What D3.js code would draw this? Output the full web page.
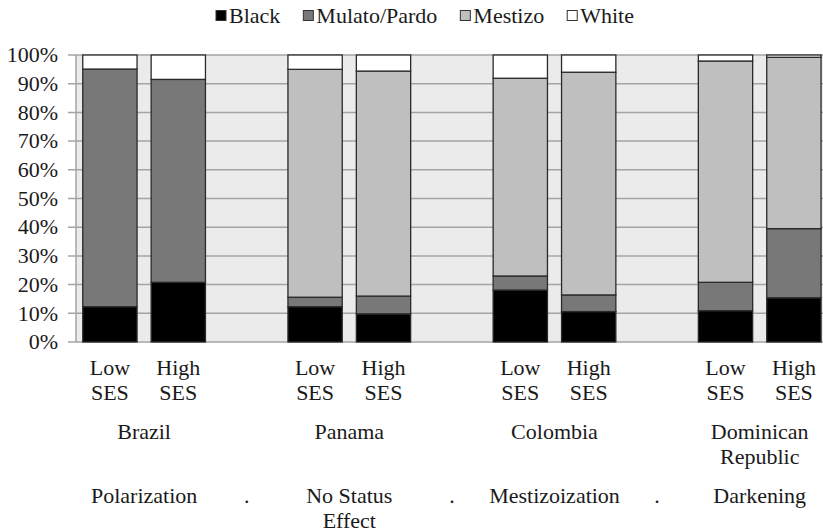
<!DOCTYPE html>
<html>
<head>
<meta charset="utf-8">
<script src="https://cdn.jsdelivr.net/npm/d3@7"></script>
<style>
  body { margin: 0; background: #fff; }
</style>
</head>
<body>
<div id="chart"></div>
<script>
// DATA
const countries = ["Brazil", "Panama", "Colombia", "Dominican Republic"];
const patterns = ["Polarization", "No Status Effect", "Mestizoization", "Darkening"];
const sesLevels = ["Low SES", "High SES"];
const seriesNames = ["Black", "Mulato/Pardo", "Mestizo", "White"];
// one value per bar: Brazil L/H, Panama L/H, Colombia L/H, Dominican Rep. L/H
const black   = [12.3, 20.8, 12.3,  9.8, 18.1, 10.6, 10.9, 15.4];
const mulato  = [82.8, 70.7,  3.3,  6.2,  4.9,  5.8,  9.9, 24.1];
const mestizo = [ 0.0,  0.0, 79.4, 78.4, 68.9, 77.6, 77.1, 59.7];
const white   = [ 4.9,  8.5,  5.0,  5.6,  8.1,  6.0,  2.1,  0.8];
const yTicks = [0, 10, 20, 30, 40, 50, 60, 70, 80, 90, 100];

const colors = ["#000000", "#787878", "#bfbfbf", "#ffffff"];

// 1: SVG
const W = 823, H = 532;
const svg = d3.select("#chart").append("svg")
    .attr("width", W)
    .attr("height", H)
    .attr("font-family", "'Liberation Serif', 'DejaVu Serif', serif")
    .attr("font-size", 22)
    .attr("fill", "#1a1a1a");

// build table: bars plus empty slots between countries (Excel-style blank categories)
const slots = [];
const rows = [];
countries.forEach((c, gi) => {
    sesLevels.forEach((s, si) => {
        const i = gi * 2 + si;
        const key = c + "|" + s;
        slots.push(key);
        rows.push({ key: key, country: c, ses: s,
            "Black": black[i], "Mulato/Pardo": mulato[i], "Mestizo": mestizo[i], "White": white[i] });
    });
    if (gi < countries.length - 1) slots.push("gap" + gi);
});

// 2: SCALES
const x = d3.scaleBand()
    .domain(slots)
    .range([75.7, 828.1])
    .paddingInner(0.206)
    .paddingOuter(0.103);

const y = d3.scaleLinear()
    .domain([0, 100])
    .range([342, 55]);

const plotLeft = 76, plotRight = W;

// 3: BACKGROUND + GRID
svg.append("rect")
    .attr("x", plotLeft).attr("y", y(100))
    .attr("width", plotRight - plotLeft).attr("height", y(0) - y(100))
    .attr("fill", "#ebebeb");

svg.append("g")
    .selectAll("line")
    .data(yTicks)
    .enter().append("line")
    .attr("x1", 68).attr("x2", plotRight)
    .attr("y1", d => y(d)).attr("y2", d => y(d))
    .attr("stroke", "#a4a4a4")
    .attr("stroke-width", 1.5);

svg.append("line")
    .attr("x1", plotLeft).attr("x2", plotLeft)
    .attr("y1", y(0)).attr("y2", y(100))
    .attr("stroke", "#a4a4a4")
    .attr("stroke-width", 1.5);

// y labels
svg.append("g")
    .selectAll("text")
    .data(yTicks)
    .enter().append("text")
    .attr("x", 58)
    .attr("y", d => y(d))
    .attr("dy", "0.33em")
    .attr("text-anchor", "end")
    .text(d => d + "%");

// 4: STACKED BARS
const stack = d3.stack().keys(seriesNames)(rows);

svg.append("g")
    .selectAll("g")
    .data(stack)
    .enter().append("g")
    .attr("fill", (d, i) => colors[i])
    .selectAll("rect")
    .data(d => d)
    .enter().append("rect")
    .attr("x", d => x(d.data.key))
    .attr("width", x.bandwidth())
    .attr("y", d => y(d[1]))
    .attr("height", d => y(d[0]) - y(d[1]))
    .attr("stroke", "#2a2a2a")
    .attr("stroke-width", 1.3);

// 5: CATEGORY LABELS
const ses = svg.append("g")
    .selectAll("text")
    .data(rows)
    .enter().append("text")
    .attr("text-anchor", "middle")
    .attr("x", d => x(d.key) + x.bandwidth() / 2)
    .attr("y", 375);
ses.append("tspan").text(d => d.ses.split(" ")[0]);
ses.append("tspan")
    .attr("x", d => x(d.key) + x.bandwidth() / 2)
    .attr("dy", 25)
    .text(d => d.ses.split(" ")[1]);

function groupCenter(c) {
    const a = x(c + "|" + sesLevels[0]);
    const b = x(c + "|" + sesLevels[1]) + x.bandwidth();
    return (a + b) / 2;
}

// wrap long labels onto two lines the way the reference does
const countryLines = c => c === "Dominican Republic" ? ["Dominican", "Republic"] : [c];
const patternLines = p => p === "No Status Effect" ? ["No Status", "Effect"] : [p];

function multiLine(data, linesFn, baseY) {
    const t = svg.append("g")
        .selectAll("text")
        .data(data)
        .enter().append("text")
        .attr("text-anchor", "middle")
        .attr("y", baseY);
    t.each(function(d, i) {
        const cx = groupCenter(countries[i]);
        d3.select(this).selectAll("tspan")
            .data(linesFn(d))
            .enter().append("tspan")
            .attr("x", cx)
            .attr("dy", (l, j) => j === 0 ? 0 : 25)
            .text(l => l);
    });
}
multiLine(countries, countryLines, 439);
multiLine(patterns, patternLines, 503);

// dots in the blank slots
svg.append("g")
    .selectAll("text")
    .data(slots.filter(s => s.startsWith("gap")))
    .enter().append("text")
    .attr("text-anchor", "middle")
    .attr("x", d => x(d) + x.bandwidth() / 2)
    .attr("y", 503)
    .text(".");

// 6: LEGEND
const legend = svg.append("g");
let lx = 0;
seriesNames.forEach((name, i) => {
    const item = legend.append("g").attr("transform", `translate(${lx},0)`);
    item.append("rect")
        .attr("x", 0).attr("y", 10.5)
        .attr("width", 10).attr("height", 10)
        .attr("fill", colors[i])
        .attr("stroke", "#333")
        .attr("stroke-width", 1);
    const t = item.append("text")
        .attr("x", 13).attr("y", 23)
        .text(name);
    lx += 13 + t.node().getComputedTextLength() + 23;
});
const legendWidth = lx - 23;
legend.attr("transform", `translate(${425 - legendWidth / 2},0)`);
</script>
</body>
</html>
